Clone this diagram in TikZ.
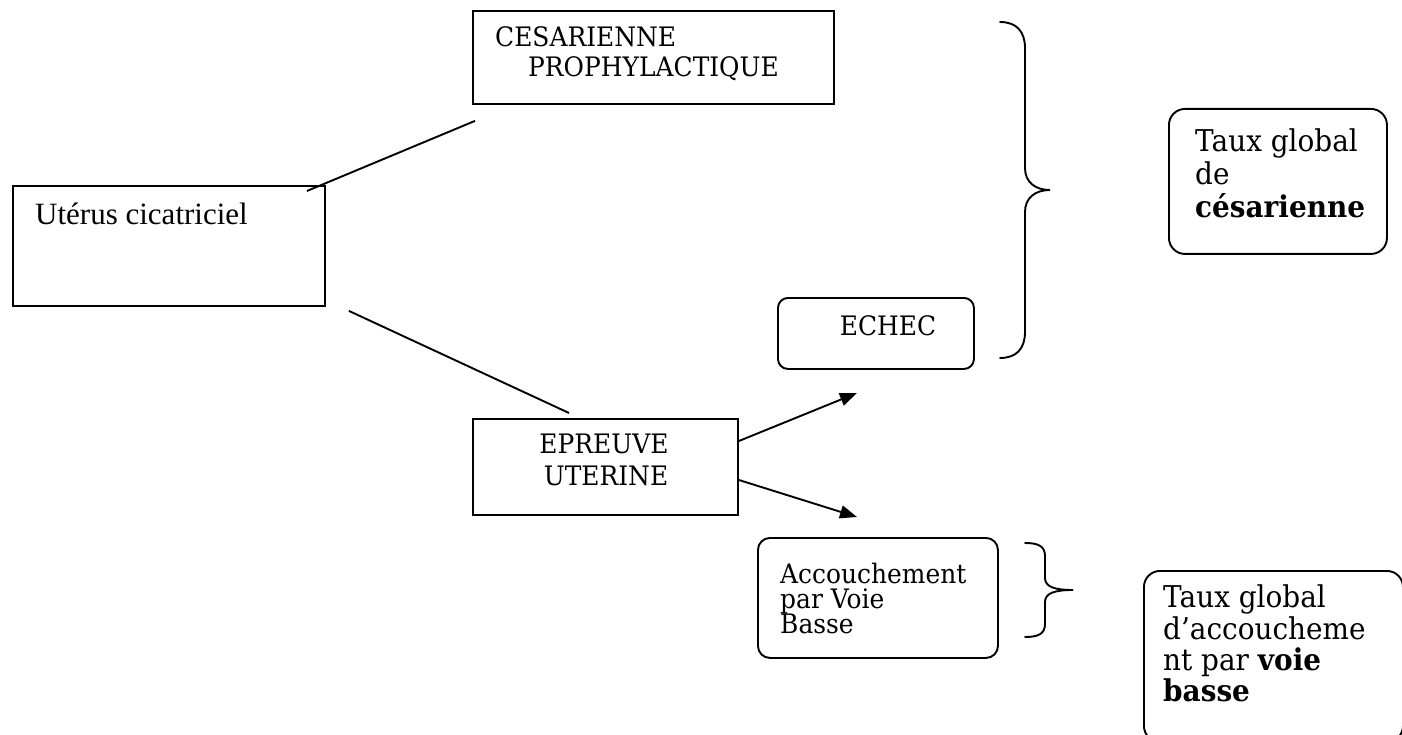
\documentclass[tikz,border=0pt]{standalone}
\usepackage{fontspec}
\setmainfont{DejaVu Serif}[FakeStretch=0.93]
\newfontfamily\timesfont{Liberation Serif}
\usetikzlibrary{arrows.meta,calc}
\tikzset{
  box/.style={draw,line width=1.9pt,inner sep=0pt,anchor=north west},
  rbox/.style={box,rounded corners=12pt},
  txt/.style={inner sep=0pt,anchor=base west,font=\fontsize{26.8}{26.8}\selectfont},
  ctxt/.style={txt,anchor=base},
  big/.style={txt,font=\fontsize{30}{30}\selectfont},
  line/.style={line width=1.9pt},
  arr/.style={line width=1.9pt,-{Triangle[length=17pt,width=13pt]}},
  brace/.style={line width=1.9pt,line cap=round}
}
\begin{document}
\begin{tikzpicture}[x=1pt,y=-1pt]
\useasboundingbox (0,0) rectangle (1402,735);
\clip (0,0) rectangle (1402,735);
% boxes
\node[box,minimum width=361pt,minimum height=93pt] (ces) at (472,10) {};
\node[box,minimum width=312pt,minimum height=120pt] (ut) at (12,185) {};
\node[rbox,rounded corners=10pt,minimum width=196pt,minimum height=71pt] (ech) at (777,297) {};
\node[box,minimum width=265pt,minimum height=96pt] (epr) at (472,418) {};
\node[rbox,minimum width=240pt,minimum height=120pt] (acc) at (757,537) {};
\node[rbox,rounded corners=16pt,minimum width=218pt,minimum height=145pt] (tc) at (1168,108) {};
\node[rbox,rounded corners=16pt,minimum width=259pt,minimum height=171pt] (tv) at (1143,570) {};
% texts
\node[txt] (ces1) at (495,47) {CESARIENNE};
\node[txt] (ces2) at (528,77) {PROPHYLACTIQUE};
\node[txt,font=\timesfont\fontsize{31}{31}\selectfont] (ut1) at (35,225) {Utérus cicatriciel};
\node[ctxt] (ech1) at (888,335) {ECHEC};
\node[ctxt] (epr1) at (604,453) {EPREUVE};
\node[ctxt] (epr2) at (606,485) {UTERINE};
\node[txt] (acc1) at (780,583) {Accouchement};
\node[txt] (acc2) at (780,608) {par Voie};
\node[txt] (acc3) at (780,633) {Basse};
\node[big] (tc1) at (1195,152) {Taux global};
\node[big] (tc2) at (1195,185) {de};
\node[big] (tc3) at (1195,218) {\textbf{césarienne}};
\node[big] (tv1) at (1163,607) {Taux global};
\node[big] (tv2) at (1163,639) {d’accoucheme};
\node[big] (tv3) at (1163,670) {nt par \textbf{voie}};
\node[big] (tv4) at (1163,701) {\textbf{basse}};
% connectors
\coordinate (l1a) at ($(ut.north east)+(-19,6)$);
\coordinate (l1b) at ($(ces.south west)+(3,16)$);
\coordinate (l2a) at ($(ut.south east)+(23,4)$);
\coordinate (l2b) at ($(epr.north west)+(97,-5)$);
\draw[line] (l1a) -- (l1b);
\draw[line] (l2a) -- (l2b);
\coordinate (a1) at (857,393);
\coordinate (a2) at (857,517);
\draw[arr] ($(epr.north east)+(0,23)$) -- (a1);
\draw[arr] ($(epr.north east)+(0,62)$) -- (a2);
% big brace
\coordinate (bt) at (1000,22);
\coordinate (bm) at (1050,190);
\coordinate (bb) at (1000,358);
\draw[brace] (bt) .. controls (1017,22) and (1025,32) .. (1025,48) -- (1025,168)
  .. controls (1025,182) and (1035,190) .. (bm)
  .. controls (1035,190) and (1025,198) .. (1025,212) -- (1025,332)
  .. controls (1025,348) and (1017,358) .. (bb);
% small brace
\coordinate (st) at (1025,543);
\coordinate (sm) at (1073,590);
\coordinate (sb) at (1025,637);
\draw[brace] (st) .. controls (1038,543) and (1045,546) .. (1045,556) -- (1045,578)
  .. controls (1045,587) and (1055,590) .. (sm)
  .. controls (1055,590) and (1045,593) .. (1045,602) -- (1045,624)
  .. controls (1045,634) and (1038,637) .. (sb);
\end{tikzpicture}
\end{document}
